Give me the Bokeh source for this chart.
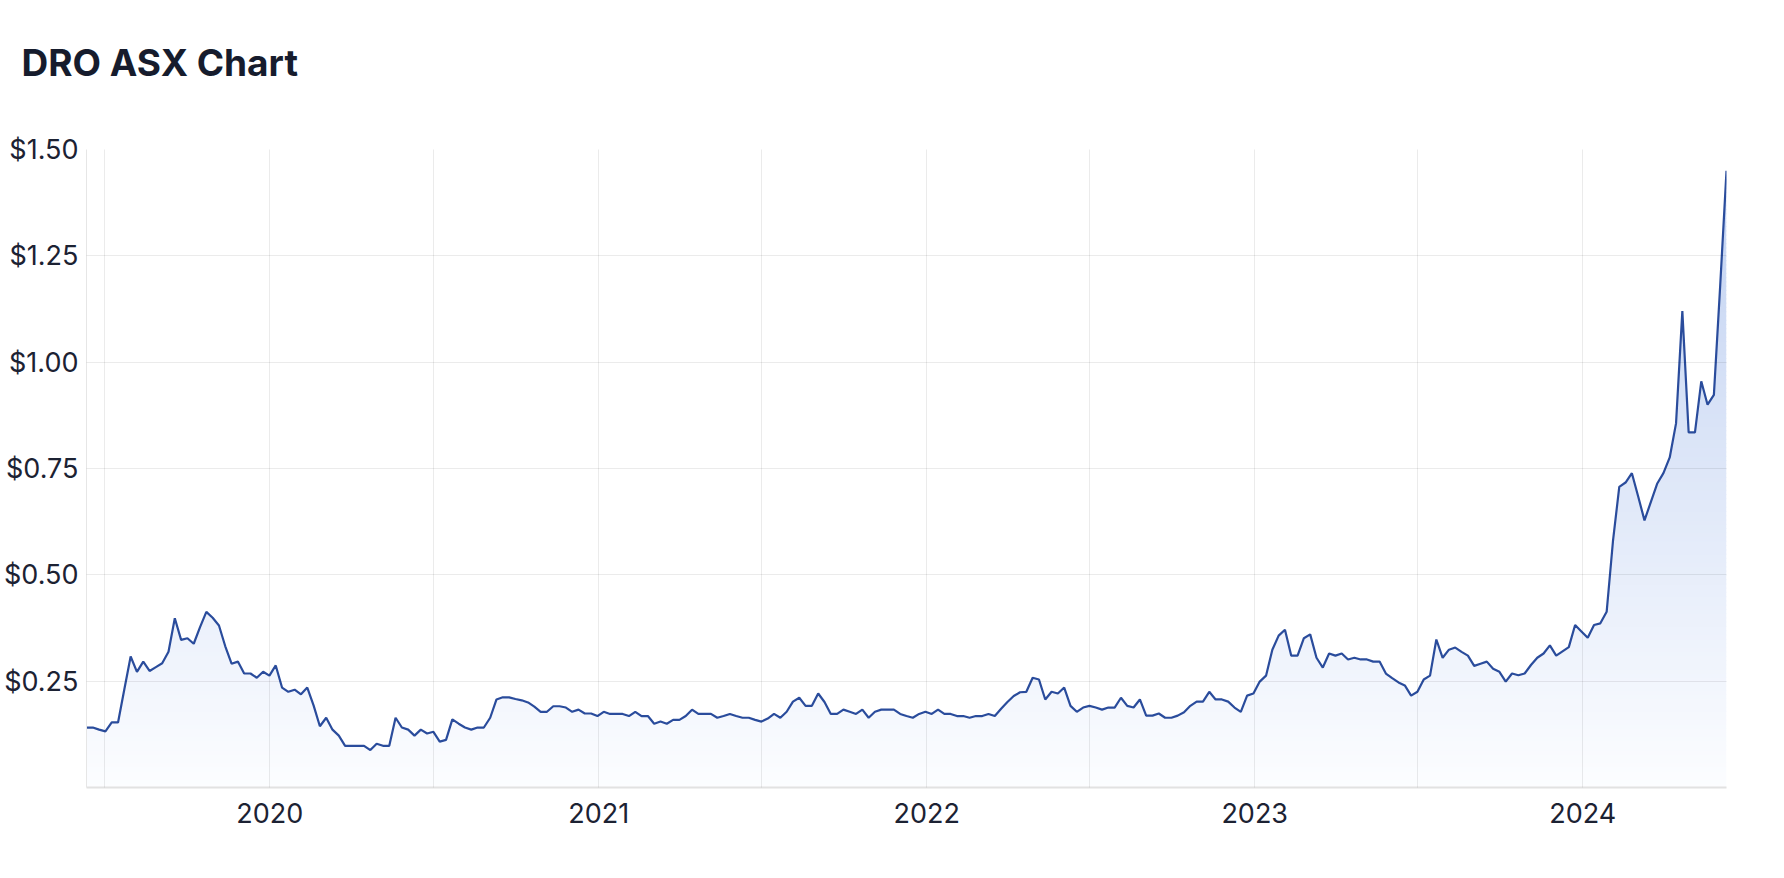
import numpy as np
import pandas as pd
from bokeh.plotting import figure
from bokeh.models import (FixedTicker, NumeralTickFormatter, DatetimeTickFormatter,
                          Range1d, LinearAxis, Title, CustomJSTickFormatter)
from bokeh.embed import file_html
from bokeh.resources import INLINE

# ---------------- data ----------------
start_date = "2019-06-11"
end_date = "2024-06-09"

prices = [
    0.141, 0.141, 0.136, 0.132, 0.153, 0.153, 0.231, 0.308, 0.272, 0.296,
    0.274, 0.283, 0.292, 0.319, 0.398, 0.347, 0.351, 0.338, 0.377, 0.413,
    0.399, 0.381, 0.332, 0.291, 0.296, 0.268, 0.268, 0.258, 0.272, 0.263,
    0.287, 0.235, 0.225, 0.230, 0.219, 0.235, 0.193, 0.144, 0.164, 0.136,
    0.122, 0.098, 0.098, 0.098, 0.098, 0.088, 0.103, 0.098, 0.098, 0.164,
    0.141, 0.136, 0.122, 0.136, 0.127, 0.131, 0.108, 0.112, 0.160, 0.150,
    0.141, 0.136, 0.141, 0.141, 0.164, 0.207, 0.212, 0.212, 0.208, 0.205,
    0.200, 0.190, 0.178, 0.178, 0.191, 0.191,
    0.188, 0.178, 0.183, 0.174, 0.174, 0.168, 0.178, 0.173, 0.173, 0.173,
    0.168, 0.178, 0.168, 0.168, 0.150, 0.155, 0.150, 0.159, 0.159, 0.168,
    0.183, 0.173, 0.173, 0.173, 0.164, 0.168, 0.173, 0.168, 0.164, 0.164,
    0.159, 0.155, 0.162, 0.173, 0.164, 0.178, 0.202, 0.211, 0.192, 0.192,
    0.221, 0.201, 0.173, 0.173, 0.183, 0.178, 0.173, 0.183, 0.164, 0.178,
    0.183, 0.183, 0.183, 0.173, 0.168, 0.164, 0.173, 0.178, 0.173, 0.183,
    0.173, 0.173, 0.168, 0.168, 0.164, 0.168, 0.168, 0.173, 0.168, 0.185,
    0.201, 0.215, 0.224,
    0.225, 0.258, 0.254, 0.207, 0.225, 0.221, 0.235, 0.192, 0.178, 0.188,
    0.192, 0.188, 0.183, 0.188, 0.188, 0.211, 0.192, 0.188, 0.207, 0.169,
    0.169, 0.174, 0.164, 0.164, 0.169, 0.177, 0.192, 0.202, 0.202, 0.225,
    0.207, 0.207, 0.202, 0.188, 0.178, 0.216, 0.221, 0.249, 0.263, 0.324,
    0.357, 0.371, 0.310, 0.310, 0.351, 0.360, 0.305, 0.282, 0.315, 0.310,
    0.315, 0.301, 0.305, 0.301, 0.301, 0.296, 0.296, 0.268, 0.257, 0.247,
    0.240, 0.216, 0.225, 0.254, 0.263, 0.348, 0.305, 0.324, 0.329, 0.319,
    0.310, 0.286, 0.291, 0.296, 0.279,
    0.272, 0.249, 0.268, 0.264, 0.268, 0.288, 0.305, 0.315, 0.334, 0.310,
    0.320, 0.330, 0.382, 0.367, 0.352, 0.382, 0.386, 0.413, 0.579, 0.707,
    0.717, 0.739, 0.684, 0.628, 0.671, 0.714, 0.739, 0.776, 0.856, 1.120,
    0.835, 0.835, 0.955, 0.900, 0.923, 1.180, 1.450,
]

title_text = "DRO ASX Chart"
y_ticks = [0.25, 0.50, 0.75, 1.00, 1.25, 1.50]
year_ticks = ["2020-01-01", "2021-01-01", "2022-01-01", "2023-01-01", "2024-01-01"]
grid_dates = ["2019-07-01", "2020-01-01", "2020-07-01", "2021-01-01", "2021-07-01",
              "2022-01-01", "2022-07-01", "2023-01-01", "2023-07-01", "2024-01-01"]

# ---------------- build ----------------
dates = pd.date_range(start_date, end_date, periods=len(prices))
vals = np.array(prices, dtype=float)
xs = dates.values.astype("datetime64[ms]").astype(np.int64).astype(float)

def to_ms(lst):
    return [pd.Timestamp(d).value / 1e6 for d in lst]

Y_MAX = 1.5
p = figure(
    width=1768, height=862,
    x_axis_type="datetime",
    x_range=Range1d(xs[0], xs[-1]),
    y_range=Range1d(0, Y_MAX),
    output_backend="svg", toolbar_location=None,
    min_border_left=79, min_border_right=42, min_border_top=149, min_border_bottom=75,
    background_fill_color="white", border_fill_color="white",
)
p.outline_line_color = None
p.title.text = ""

# ---- vertical gradient fill under the line, built from opaque horizontal bands ----
top_rgb = np.array([191, 208, 241])
bottom_rgb = np.array([252, 253, 255])
n_bands = 150
step = Y_MAX / n_bands
eps = step * 0.25
band_lo = [0.0] + [k * step - eps for k in range(1, n_bands)]
band_hi = [(k + 1) * step for k in range(n_bands)]

# geometry only: add the exact points where the polyline crosses band edges,
# so clipped band outlines follow the drawn line exactly
levels = np.unique(np.array(band_lo + band_hi))
fx, fy = [xs[0]], [vals[0]]
for i in range(len(vals) - 1):
    ya, yb = vals[i], vals[i + 1]
    if ya != yb:
        lo, hi = min(ya, yb), max(ya, yb)
        cross = levels[(levels > lo) & (levels < hi)]
        ts = np.sort((cross - ya) / (yb - ya))
        for t in ts:
            fx.append(xs[i] + t * (xs[i + 1] - xs[i]))
            fy.append(ya + t * (yb - ya))
    fx.append(xs[i + 1])
    fy.append(yb)
fx, fy = np.array(fx), np.array(fy)

for k in range(n_bands):
    lo, hi = band_lo[k], band_hi[k]
    if lo >= vals.max():
        break
    t = (k * step + step / 2) / Y_MAX
    rgb = np.round(bottom_rgb + (top_rgb - bottom_rgb) * t).astype(int)
    color = "#%02x%02x%02x" % tuple(rgb)
    p.varea(x=fx, y1=lo, y2=np.clip(fy, lo, hi), fill_color=color, fill_alpha=1.0)

p.line(xs, vals, line_color="#2a4c9c", line_width=2.2)

# ---- axes ----
label_color = "#1c2233"
p.yaxis.ticker = FixedTicker(ticks=y_ticks)
p.yaxis.formatter = NumeralTickFormatter(format="$0.00")
p.yaxis.major_tick_line_color = None
p.yaxis.minor_tick_line_color = None
p.yaxis.major_tick_out = 0
p.yaxis.minor_tick_out = 0
p.yaxis.axis_line_color = "#e6e6e6"
p.yaxis.major_label_text_font = "Inter"
p.yaxis.major_label_text_font_size = "27px"
p.yaxis.major_label_text_color = label_color
p.yaxis.major_label_standoff = 8

p.xaxis.ticker = FixedTicker(ticks=to_ms(year_ticks))
p.xaxis.formatter = DatetimeTickFormatter(years="%Y", months="%Y", days="%Y", hours="%Y")
p.xaxis.major_tick_line_color = None
p.xaxis.minor_tick_line_color = None
p.xaxis.major_tick_out = 0
p.xaxis.minor_tick_out = 0
p.xaxis.axis_line_color = "#e2e2e2"
p.xaxis.axis_line_width = 2
p.xaxis.major_label_text_font = "Inter"
p.xaxis.major_label_text_font_size = "27px"
p.xaxis.major_label_text_color = label_color
p.xaxis.major_label_standoff = 15

# grid drawn above the (opaque) fill, translucent so it tints like the reference
for g in (p.xgrid, p.ygrid):
    g.level = "overlay"
    g.grid_line_color = "#000000"
    g.grid_line_alpha = 0.08
p.xgrid.ticker = FixedTicker(ticks=to_ms(grid_dates))

# invisible spacer between the frame and the title (one white tick, empty label)
p.extra_x_ranges = {"spacer": Range1d(0, 1)}
spacer = LinearAxis(x_range_name="spacer", ticker=FixedTicker(ticks=[0.5]),
                    formatter=CustomJSTickFormatter(code="return ''"),
                    axis_line_color=None,
                    major_tick_line_color="#ffffff", minor_tick_line_color=None,
                    major_tick_in=0, major_tick_out=60, minor_tick_out=0,
                    major_label_standoff=0, major_label_text_font_size="1px")
p.add_layout(spacer, "above")

# title (added after the spacer, so it sits farther from the frame)
title = Title(text=title_text, text_font="Inter", text_font_style="bold",
              text_font_size="37px", text_color="#161c2d",
              align="left", offset=-65, standoff=10)
p.add_layout(title, "above")

open("out.html", "w").write(file_html(p, INLINE))
